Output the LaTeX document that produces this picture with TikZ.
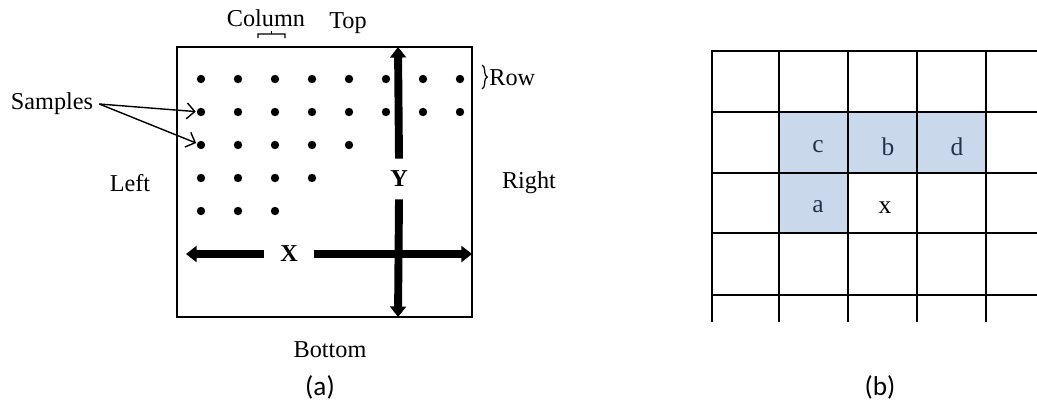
\documentclass[tikz,border=0pt]{standalone}
\usepackage{fontspec}
\setmainfont{Liberation Serif}
\newfontfamily\capfont{Carlito}
\usepackage{tikz}
\usetikzlibrary{arrows.meta, calc, decorations.pathreplacing}

\definecolor{cellblue}{HTML}{C9D8EA}
\definecolor{cellink}{HTML}{27304A}

\begin{document}
\begin{tikzpicture}[x=0.02cm, y=-0.02cm,
        lbl/.style={font=\fontsize{13.8}{16}\selectfont},
        axis/.style={line width=4.5pt, -{Triangle[length=6pt, width=9pt]}},
        gridln/.style={line width=0.8pt},
        letter/.style={font=\fontsize{14.5}{17}\selectfont, text=cellink},
        caption/.style={font=\capfont\fontsize{15.5}{18}\selectfont}]
        \useasboundingbox (0,0) rectangle (1037,400);

        % (a) sample layout
        \coordinate (BoxNW) at (177, 47);
        \coordinate (BoxSE) at (472, 317);
        \coordinate (YTop) at (398, 47);
        \coordinate (YBot) at (398, 317);
        \coordinate (XLeft) at (186, 254);
        \coordinate (XRight) at (472, 254);

        \draw[line width=0.6pt] (BoxNW) rectangle (BoxSE);

        % rows of samples, each shorter than the one above
        \foreach \n [count=\r] in {8, 8, 5, 4, 3} {
            \foreach \c in {1, ..., \n} {
                \coordinate (S\r-\c) at ({164 + 37*\c}, {46 + 33*\r});
                \fill (S\r-\c) circle (4.2);
            }
        }

        \node[lbl, inner sep=0pt, minimum height=0.8cm] (Y) at (399, 179) {\textbf{Y}};
        \node[lbl, inner sep=0pt, minimum width=0.98cm] (X) at (289, 254) {\textbf{X}};
        \draw[axis] (Y.north) -- (YTop);
        \draw[axis] (Y.south) -- (YBot);
        \draw[axis] (X.west) -- (XLeft);
        \draw[axis] (X.east) -- (XRight);

        \node[lbl] (Samples) at (52, 104) {Samples};
        \draw[line width=0.8pt, -{Straight Barb[length=4.5pt]}, shorten >=3pt] (Samples.east) -- (S2-1);
        \draw[line width=0.8pt, -{Straight Barb[length=4.5pt]}, shorten >=3pt] (Samples.east) -- (S3-1);

        % square bracket over one column
        \coordinate (ColL) at (258, 38);
        \coordinate (ColR) at (285, 38);
        \draw[line width=0.7pt] (ColL) -- ++(0, -4) -- ([yshift=0.08cm]ColR) -- (ColR);
        \draw[line width=0.7pt] ($(ColL)!0.5!(ColR) + (0, -4)$) -- ++(0, -3);
        \node[lbl] (Column) at (266, 18) {Column};
        \node[lbl] (Top) at (348, 23) {Top};

        \coordinate (RowT) at (482, 65);
        \coordinate (RowB) at (482, 89);
        \draw[line width=0.7pt, decorate, decoration={brace, amplitude=3pt}] (RowT) -- (RowB);
        \node[lbl, anchor=west, inner sep=0pt] (Row) at (489, 78) {Row};

        \node[lbl] (Left) at (130, 183) {Left};
        \node[lbl] (Right) at (529, 183) {Right};
        \node[lbl] (Bottom) at (330, 350) {Bottom};
        \node[caption] (CapA) at (320, 387) {(a)};

        % (b) neighbouring cells
        \fill[cellblue] (779, 112) rectangle (986, 173);
        \fill[cellblue] (779, 173) rectangle (848, 233);
        \foreach \y in {112, 173, 233, 295}
            \draw[gridln] (712, \y) -- (1037, \y);
        \foreach \x in {779, 848, 917, 986}
            \draw[gridln] (\x, 51) -- (\x, 322);
        \draw[line width=1.2pt] (711, 51) -- (1037, 51);
        \draw[line width=1.6pt] (712, 50) -- (712, 322);

        \node[letter] (c) at (818, 147) {c};
        \node[letter] (b) at (888, 147) {b};
        \node[letter] (d) at (957, 147) {d};
        \node[letter] (a) at (818, 207) {a};
        \node[letter, text=black] (x) at (885, 208) {x};
        \node[caption] (CapB) at (880, 387) {(b)};
\end{tikzpicture}
\end{document}
